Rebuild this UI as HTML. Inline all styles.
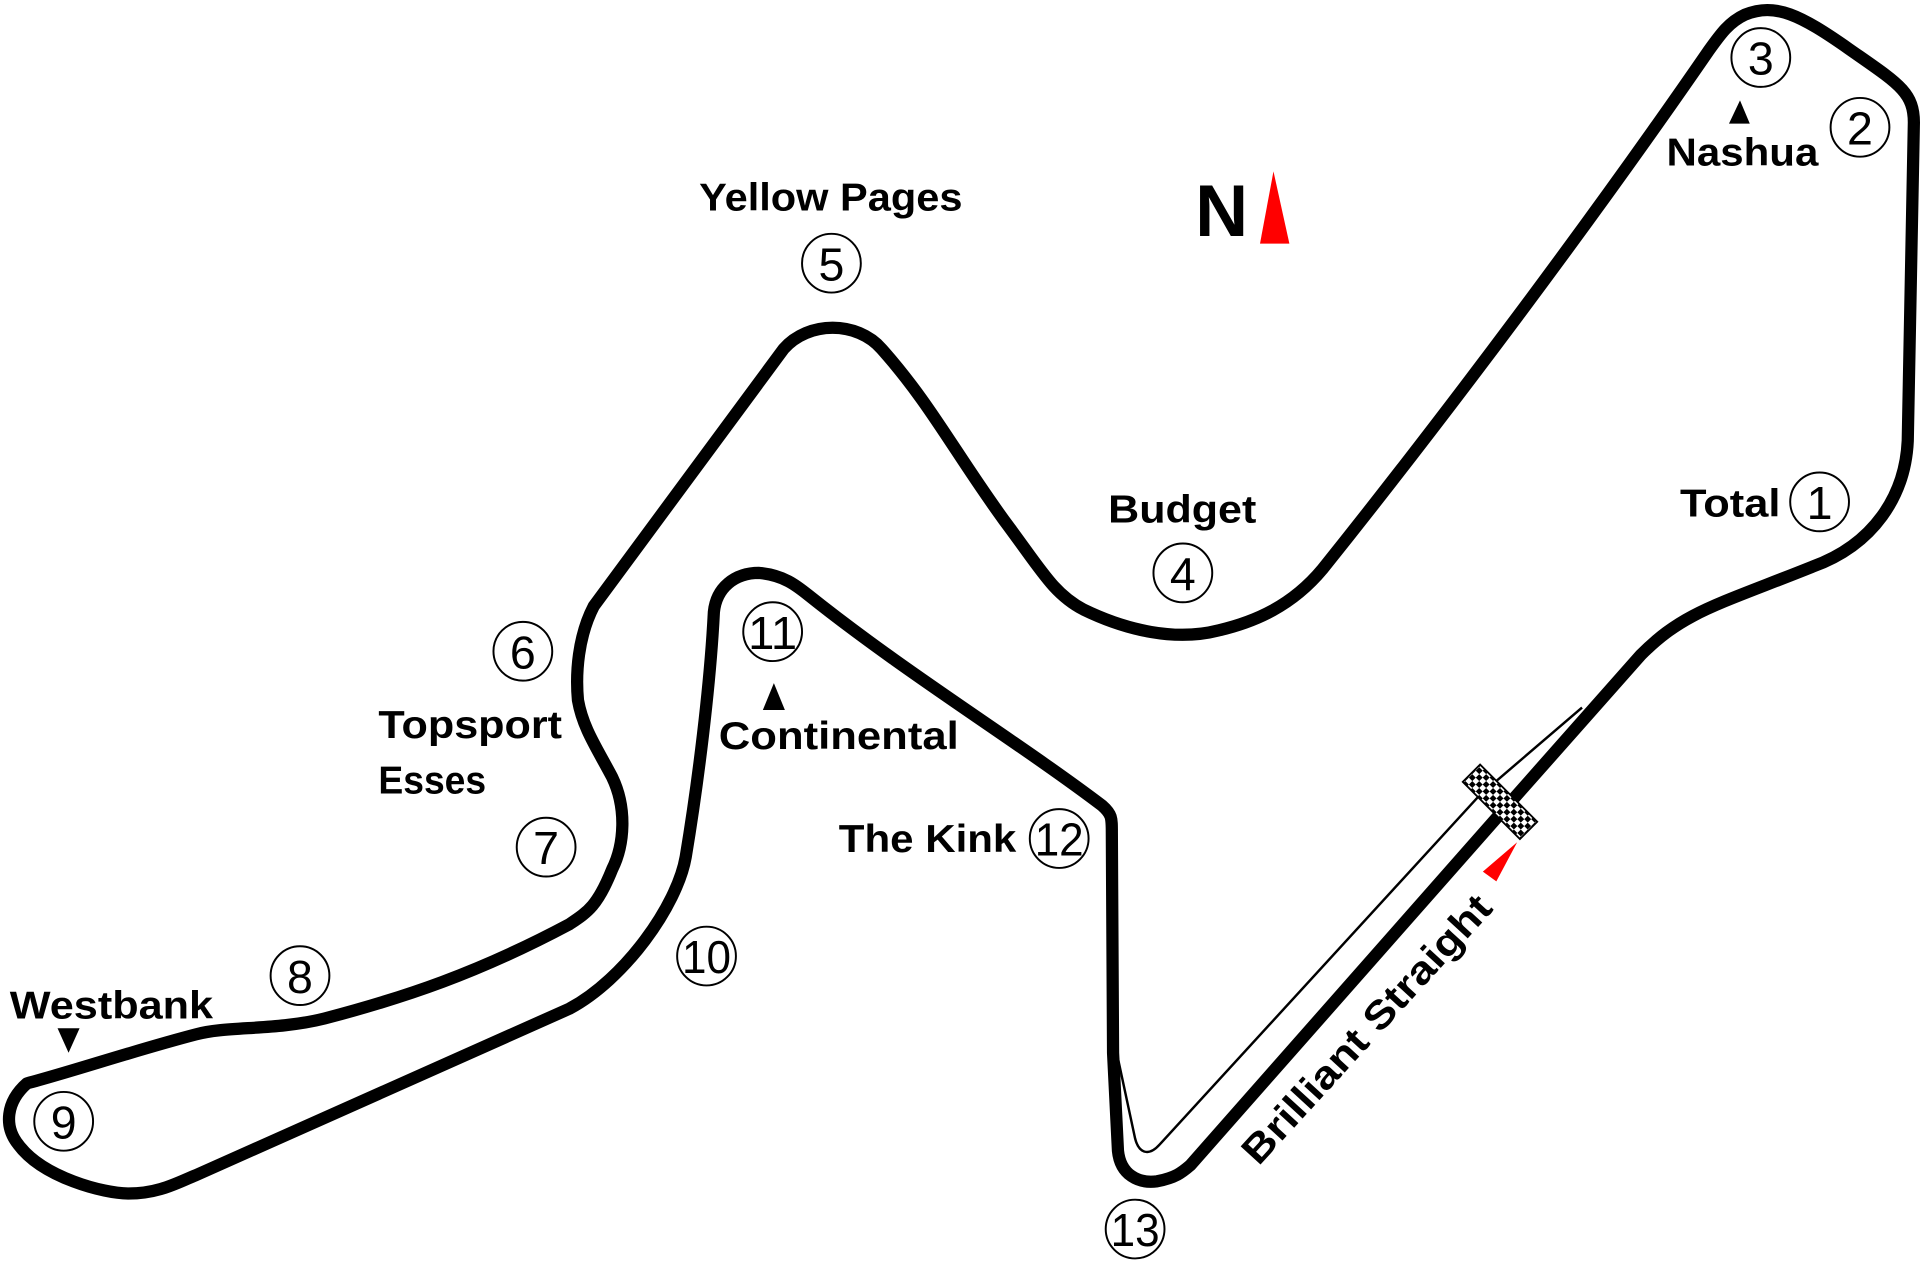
<!DOCTYPE html>
<html><head><meta charset="utf-8"><style>
html,body{margin:0;padding:0;background:#fff;}
svg{display:block;}
text{font-family:"Liberation Sans",sans-serif;font-weight:bold;fill:#000;}
.n{font-family:"Liberation Sans",sans-serif;font-weight:normal;font-size:38px;text-anchor:middle;}
</style></head><body>
<svg width="1920" height="1267" viewBox="0 0 1568 1035" preserveAspectRatio="none" xmlns="http://www.w3.org/2000/svg">
<defs>
<pattern id="chk" width="8" height="8" patternUnits="userSpaceOnUse">
<rect width="8" height="8" fill="#fff"/><rect width="4" height="4" fill="#000"/><rect x="4" y="4" width="4" height="4" fill="#000"/>
</pattern>
</defs>
<path d="M1292,578 L1208,650 L947,935 C938,945 930,942 927,930 L912,860" fill="none" stroke="#000" stroke-width="2"/>
<path d="M1225,665 L1340,535 C1375,500 1400,495 1480,463 C1530,445 1556,405 1558,360 L1563,100 C1563,75 1550,68 1510,40 C1470,12 1450,2 1425,12 C1412,18 1405,28 1395,42 C1300,180 1180,340 1080,465 C1055,495 1025,508 995,515 C960,524 920,515 885,498 C860,485 850,465 820,425 C780,370 760,330 720,285 C700,262 660,262 640,285 L485,495 C472,520 470,550 472,572 C476,595 488,612 500,635 C512,660 510,690 500,710 C488,740 480,745 465,755 C390,795 330,815 265,832 C225,842 185,838 160,845 C110,858 60,875 22,885 C5,900 3,920 15,935 C35,962 85,975 105,975 C130,975 145,966 160,960 L465,824 C510,800 553,740 560,700 C570,640 580,560 583,500 C585,480 600,468 620,468 C640,470 650,478 660,486 C740,550 830,605 900,658 C908,665 908,668 908,680 L909,860 L913,940 C915,960 930,967 945,965 C960,962 965,958 972,952 Z" fill="none" stroke="#000" stroke-width="10" stroke-linejoin="round"/>
<g transform="translate(1225,655) rotate(45)"><rect x="-33" y="-10" width="66" height="20" fill="url(#chk)" stroke="#000" stroke-width="1.5"/></g>
<polygon points="1040,140 1029,199 1053,199" fill="#f00"/>
<polygon points="1239,688 1211,712 1222,720" fill="#f00"/>
<polygon points="1421,82 1412,101 1429,101" fill="#000"/>
<polygon points="632,558 623,580 641,580" fill="#000"/>
<polygon points="47,840 65,840 56,860" fill="#000"/>
<text x="976" y="193" font-size="60">N</text>
<text x="571" y="172" font-size="32" textLength="215" lengthAdjust="spacingAndGlyphs">Yellow Pages</text>
<text x="1361" y="135" font-size="32" textLength="124" lengthAdjust="spacingAndGlyphs">Nashua</text>
<text x="1372" y="422" font-size="32" textLength="82" lengthAdjust="spacingAndGlyphs">Total</text>
<text x="905" y="427" font-size="32" textLength="121" lengthAdjust="spacingAndGlyphs">Budget</text>
<text x="309" y="603" font-size="32" textLength="150" lengthAdjust="spacingAndGlyphs">Topsport</text>
<text x="309" y="648" font-size="32" textLength="88" lengthAdjust="spacingAndGlyphs">Esses</text>
<text x="587" y="612" font-size="32" textLength="196" lengthAdjust="spacingAndGlyphs">Continental</text>
<text x="685" y="696" font-size="32" textLength="145" lengthAdjust="spacingAndGlyphs">The Kink</text>
<text x="8" y="832" font-size="32" textLength="166" lengthAdjust="spacingAndGlyphs">Westbank</text>
<text x="1124" y="848" font-size="32" text-anchor="middle" textLength="285" lengthAdjust="spacingAndGlyphs" transform="rotate(-47.5 1124 848)">Brilliant Straight</text>
<g fill="none" stroke="#000" stroke-width="1.6">
<circle cx="1486" cy="410" r="24"/><circle cx="1519" cy="104" r="24"/><circle cx="1438" cy="47" r="24"/>
<circle cx="966" cy="468" r="24"/><circle cx="679" cy="215" r="24"/><circle cx="427" cy="532" r="24"/>
<circle cx="446" cy="692" r="24"/><circle cx="245" cy="797" r="24"/><circle cx="52" cy="916" r="24"/>
<circle cx="577" cy="781" r="24"/><circle cx="631" cy="516" r="24"/><circle cx="865" cy="685" r="24"/>
<circle cx="927" cy="1004" r="24"/>
</g>
<g>
<text class="n" x="1486" y="424">1</text><text class="n" x="1519" y="118">2</text><text class="n" x="1438" y="61">3</text>
<text class="n" x="966" y="482">4</text><text class="n" x="679" y="229">5</text><text class="n" x="427" y="546">6</text>
<text class="n" x="446" y="706">7</text><text class="n" x="245" y="811">8</text><text class="n" x="52" y="930">9</text>
<text class="n" x="577" y="795" textLength="40" lengthAdjust="spacingAndGlyphs">10</text>
<text class="n" x="631" y="530" textLength="40" lengthAdjust="spacingAndGlyphs">11</text>
<text class="n" x="865" y="699" textLength="40" lengthAdjust="spacingAndGlyphs">12</text>
<text class="n" x="927" y="1018" textLength="40" lengthAdjust="spacingAndGlyphs">13</text>
</g>
</svg>
</body></html>
